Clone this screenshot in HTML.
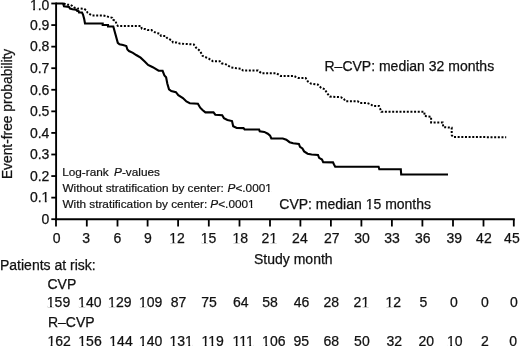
<!DOCTYPE html>
<html><head><meta charset="utf-8"><style>
html,body{margin:0;padding:0;background:#fff;}
body{width:520px;height:346px;overflow:hidden;}
svg{display:block;will-change:transform;}
.t{font-family:"Liberation Sans",sans-serif;font-size:14px;fill:#111;stroke:#111;stroke-width:0.25px;}
.s{font-family:"Liberation Sans",sans-serif;font-size:11.8px;fill:#111;stroke:#111;stroke-width:0.2px;}
</style></head><body>
<svg width="520" height="346" viewBox="0 0 520 346">
<rect width="520" height="346" fill="#fff"/>
<line x1="56.1" y1="2.6" x2="56.1" y2="220.2" stroke="#000" stroke-width="1.9"/>
<line x1="55.1" y1="219.2" x2="514.8" y2="219.2" stroke="#000" stroke-width="2"/>
<line x1="51.3" y1="219.20" x2="56.1" y2="219.20" stroke="#000" stroke-width="1.8"/>
<text x="49.4" y="224.0" text-anchor="end" class="t">0</text>
<line x1="51.3" y1="197.63" x2="56.1" y2="197.63" stroke="#000" stroke-width="1.8"/>
<text x="49.4" y="202.4" text-anchor="end" class="t">0.1</text>
<line x1="51.3" y1="176.06" x2="56.1" y2="176.06" stroke="#000" stroke-width="1.8"/>
<text x="49.4" y="180.9" text-anchor="end" class="t">0.2</text>
<line x1="51.3" y1="154.49" x2="56.1" y2="154.49" stroke="#000" stroke-width="1.8"/>
<text x="49.4" y="159.3" text-anchor="end" class="t">0.3</text>
<line x1="51.3" y1="132.92" x2="56.1" y2="132.92" stroke="#000" stroke-width="1.8"/>
<text x="49.4" y="137.7" text-anchor="end" class="t">0.4</text>
<line x1="51.3" y1="111.35" x2="56.1" y2="111.35" stroke="#000" stroke-width="1.8"/>
<text x="49.4" y="116.1" text-anchor="end" class="t">0.5</text>
<line x1="51.3" y1="89.78" x2="56.1" y2="89.78" stroke="#000" stroke-width="1.8"/>
<text x="49.4" y="94.6" text-anchor="end" class="t">0.6</text>
<line x1="51.3" y1="68.21" x2="56.1" y2="68.21" stroke="#000" stroke-width="1.8"/>
<text x="49.4" y="73.0" text-anchor="end" class="t">0.7</text>
<line x1="51.3" y1="46.64" x2="56.1" y2="46.64" stroke="#000" stroke-width="1.8"/>
<text x="49.4" y="51.4" text-anchor="end" class="t">0.8</text>
<line x1="51.3" y1="25.07" x2="56.1" y2="25.07" stroke="#000" stroke-width="1.8"/>
<text x="49.4" y="29.9" text-anchor="end" class="t">0.9</text>
<line x1="51.3" y1="3.50" x2="56.1" y2="3.50" stroke="#000" stroke-width="1.8"/>
<text x="49.4" y="10.3" text-anchor="end" class="t">1.0</text>
<line x1="56.00" y1="219.2" x2="56.00" y2="226.5" stroke="#000" stroke-width="1.8"/>
<text x="56.60" y="242.5" text-anchor="middle" class="t">0</text>
<line x1="86.80" y1="219.2" x2="86.80" y2="226.5" stroke="#000" stroke-width="1.8"/>
<text x="86.10" y="242.5" text-anchor="middle" class="t">3</text>
<line x1="117.50" y1="219.2" x2="117.50" y2="226.5" stroke="#000" stroke-width="1.8"/>
<text x="117.30" y="242.5" text-anchor="middle" class="t">6</text>
<line x1="147.60" y1="219.2" x2="147.60" y2="226.5" stroke="#000" stroke-width="1.8"/>
<text x="148.00" y="242.5" text-anchor="middle" class="t">9</text>
<line x1="178.10" y1="219.2" x2="178.10" y2="226.5" stroke="#000" stroke-width="1.8"/>
<text x="177.10" y="242.5" text-anchor="middle" class="t">12</text>
<line x1="208.80" y1="219.2" x2="208.80" y2="226.5" stroke="#000" stroke-width="1.8"/>
<text x="208.60" y="242.5" text-anchor="middle" class="t">15</text>
<line x1="239.50" y1="219.2" x2="239.50" y2="226.5" stroke="#000" stroke-width="1.8"/>
<text x="240.20" y="242.5" text-anchor="middle" class="t">18</text>
<line x1="270.00" y1="219.2" x2="270.00" y2="226.5" stroke="#000" stroke-width="1.8"/>
<text x="269.40" y="242.5" text-anchor="middle" class="t">21</text>
<line x1="300.40" y1="219.2" x2="300.40" y2="226.5" stroke="#000" stroke-width="1.8"/>
<text x="299.90" y="242.5" text-anchor="middle" class="t">24</text>
<line x1="330.90" y1="219.2" x2="330.90" y2="226.5" stroke="#000" stroke-width="1.8"/>
<text x="331.70" y="242.5" text-anchor="middle" class="t">27</text>
<line x1="361.40" y1="219.2" x2="361.40" y2="226.5" stroke="#000" stroke-width="1.8"/>
<text x="362.00" y="242.5" text-anchor="middle" class="t">30</text>
<line x1="391.90" y1="219.2" x2="391.90" y2="226.5" stroke="#000" stroke-width="1.8"/>
<text x="392.00" y="242.5" text-anchor="middle" class="t">33</text>
<line x1="422.40" y1="219.2" x2="422.40" y2="226.5" stroke="#000" stroke-width="1.8"/>
<text x="422.80" y="242.5" text-anchor="middle" class="t">36</text>
<line x1="453.00" y1="219.2" x2="453.00" y2="226.5" stroke="#000" stroke-width="1.8"/>
<text x="454.20" y="242.5" text-anchor="middle" class="t">39</text>
<line x1="483.50" y1="219.2" x2="483.50" y2="226.5" stroke="#000" stroke-width="1.8"/>
<text x="483.90" y="242.5" text-anchor="middle" class="t">42</text>
<line x1="513.80" y1="219.2" x2="513.80" y2="226.5" stroke="#000" stroke-width="1.8"/>
<text x="511.90" y="242.5" text-anchor="middle" class="t">45</text>
<polyline points="56.0,3.5 63.0,3.5 64.0,6.3 69.0,6.9 70.0,8.5 72.5,9.3 76.0,9.6 77.0,10.8 78.6,11.2 79.0,12.4 82.0,12.5 83.0,14.5 84.2,19.0 85.0,23.5 102.7,23.5 102.7,25.0 108.0,25.0 108.0,26.5 113.3,26.5 117.8,42.8 119.5,44.2 123.0,45.0 126.3,46.0 127.4,49.5 129.0,51.0 132.9,52.8 136.2,55.0 140.6,57.7 144.7,61.5 148.1,64.9 152.8,67.2 158.6,70.7 162.6,70.8 164.4,75.4 166.1,77.2 167.3,83.5 169.0,89.3 171.3,91.0 175.9,92.2 178.3,95.1 182.9,98.0 186.4,101.5 189.8,103.2 197.9,103.7 200.2,107.7 202.5,110.0 205.4,112.4 213.5,112.4 215.3,114.7 222.2,115.3 223.9,118.1 227.4,119.9 232.0,121.0 233.2,126.2 236.7,128.0 243.5,128.1 244.6,129.5 259.1,129.5 259.7,131.2 264.3,131.9 267.8,133.7 270.1,135.6 271.3,138.5 282.8,138.5 286.3,139.7 289.6,142.2 293.1,143.3 298.9,143.9 300.0,146.8 302.4,148.5 304.1,151.4 307.6,153.7 311.6,154.5 318.0,154.9 319.1,157.8 322.0,159.5 323.2,162.2 333.0,162.4 334.0,164.5 335.2,166.8 378.6,166.8 379.3,169.2 400.8,169.2 401.2,174.5 448.0,174.5" fill="none" stroke="#000" stroke-width="2.1" stroke-linejoin="miter"/>
<polyline points="63.8,3.5 66.3,4.8 70.1,4.9 72.1,5.8 74.0,7.5 77.3,8.7 80.6,8.5 84.2,8.9 86.5,10.4 87.5,12.7 89.3,13.9 91.9,15.4 102.7,15.4 105.8,16.0 108.4,16.9 112.3,17.8 113.0,19.5 115.7,21.2 116.6,24.7 118.0,26.0 141.0,26.0 141.8,28.7 145.2,29.1 147.6,30.1 151.5,30.1 153.4,31.5 156.3,33.0 159.6,33.5 161.1,35.9 165.4,35.9 166.8,37.8 169.2,39.2 171.6,40.2 173.1,42.6 176.9,42.6 179.8,43.6 193.8,44.5 196.1,47.7 200.2,51.1 202.5,55.8 208.8,58.6 212.9,61.3 219.8,61.3 221.5,63.3 226.1,64.4 230.7,67.3 237.7,68.5 240.8,68.7 243.1,70.6 258.1,70.6 261.5,73.3 276.5,73.3 280.6,75.9 293.8,75.9 295.8,76.9 298.1,77.9 305.6,77.9 307.9,81.6 310.8,83.6 317.7,84.5 321.2,87.9 324.7,89.1 327.0,93.1 329.9,96.6 340.9,97.2 343.8,98.9 345.5,101.2 357.7,101.3 360.0,103.1 367.5,103.1 370.4,104.2 373.3,106.0 379.0,106.0 380.2,108.8 381.3,111.7 424.2,111.7 424.8,116.1 431.1,116.7 431.1,122.5 442.7,122.5 443.3,127.1 451.7,127.7 451.7,135.0 453.0,137.0 506.2,137.2" fill="none" stroke="#000" stroke-width="2" stroke-dasharray="2 1.65"/>
<text x="254" y="263.5" class="t">Study month</text>
<text x="11.7" y="179.1" class="t" style="font-size:13.8px" transform="rotate(-90 11.7 179.1)">Event-free probability</text>
<text x="324.5" y="70.8" class="t">R–CVP: median 32 months</text>
<text x="279.3" y="209.2" class="t">CVP: median 15 months</text>
<text x="62.2" y="175.7" class="s">Log-rank <tspan font-style="italic" dx="2">P</tspan>-values</text>
<text x="62.4" y="192" class="s">Without stratification by center: <tspan font-style="italic" dx="0.6">P</tspan>&lt;.0001</text>
<text x="62.4" y="208.2" class="s">With stratification by center: <tspan font-style="italic" dx="-0.2">P</tspan>&lt;.0001</text>
<text x="0" y="270.4" class="t">Patients at risk:</text>
<text x="47.5" y="288.8" class="t">CVP</text>
<text x="47.9" y="327.3" class="t">R–CVP</text>
<text x="58.5" y="306.5" text-anchor="middle" class="t n">159</text>
<text x="59.1" y="345.5" text-anchor="middle" class="t n">162</text>
<text x="89.8" y="306.5" text-anchor="middle" class="t n">140</text>
<text x="90.0" y="345.5" text-anchor="middle" class="t n">156</text>
<text x="119.8" y="306.5" text-anchor="middle" class="t n">129</text>
<text x="121.0" y="345.5" text-anchor="middle" class="t n">144</text>
<text x="150.6" y="306.5" text-anchor="middle" class="t n">109</text>
<text x="150.6" y="345.5" text-anchor="middle" class="t n">140</text>
<text x="178.6" y="306.5" text-anchor="middle" class="t n">87</text>
<text x="181.2" y="345.5" text-anchor="middle" class="t n">131</text>
<text x="209.0" y="306.5" text-anchor="middle" class="t n">75</text>
<text x="212.7" y="345.5" text-anchor="middle" class="t n">119</text>
<text x="240.8" y="306.5" text-anchor="middle" class="t n">64</text>
<text x="243.2" y="345.5" text-anchor="middle" class="t n">111</text>
<text x="270.1" y="306.5" text-anchor="middle" class="t n">58</text>
<text x="273.8" y="345.5" text-anchor="middle" class="t n">106</text>
<text x="301.5" y="306.5" text-anchor="middle" class="t n">46</text>
<text x="301.3" y="345.5" text-anchor="middle" class="t n">95</text>
<text x="331.2" y="306.5" text-anchor="middle" class="t n">28</text>
<text x="331.2" y="345.5" text-anchor="middle" class="t n">68</text>
<text x="361.4" y="306.5" text-anchor="middle" class="t n">21</text>
<text x="361.9" y="345.5" text-anchor="middle" class="t n">50</text>
<text x="393.3" y="306.5" text-anchor="middle" class="t n">12</text>
<text x="394.3" y="345.5" text-anchor="middle" class="t n">32</text>
<text x="423.5" y="306.5" text-anchor="middle" class="t n">5</text>
<text x="426.3" y="345.5" text-anchor="middle" class="t n">20</text>
<text x="453.8" y="306.5" text-anchor="middle" class="t n">0</text>
<text x="454.8" y="345.5" text-anchor="middle" class="t n">10</text>
<text x="484.8" y="306.5" text-anchor="middle" class="t n">0</text>
<text x="485.0" y="345.5" text-anchor="middle" class="t n">2</text>
<text x="513.9" y="306.5" text-anchor="middle" class="t n">0</text>
<text x="513.2" y="345.5" text-anchor="middle" class="t n">0</text>
<g><rect x="42.07" y="200.25" width="2.75" height="2.95" fill="#fff"/><rect x="46.66" y="200.25" width="2.64" height="2.95" fill="#fff"/><rect x="30.40" y="8.15" width="2.75" height="2.95" fill="#fff"/><rect x="34.99" y="8.15" width="2.64" height="2.95" fill="#fff"/><rect x="169.78" y="240.35" width="2.75" height="2.95" fill="#fff"/><rect x="174.37" y="240.35" width="2.64" height="2.95" fill="#fff"/><rect x="201.28" y="240.35" width="2.75" height="2.95" fill="#fff"/><rect x="205.87" y="240.35" width="2.64" height="2.95" fill="#fff"/><rect x="232.88" y="240.35" width="2.75" height="2.95" fill="#fff"/><rect x="237.47" y="240.35" width="2.64" height="2.95" fill="#fff"/><rect x="269.86" y="240.35" width="2.75" height="2.95" fill="#fff"/><rect x="274.45" y="240.35" width="2.64" height="2.95" fill="#fff"/><rect x="366.13" y="207.05" width="2.75" height="2.95" fill="#fff"/><rect x="370.72" y="207.05" width="2.64" height="2.95" fill="#fff"/><rect x="265.60" y="190.02" width="2.37" height="2.78" fill="#fff"/><rect x="269.61" y="190.02" width="2.28" height="2.78" fill="#fff"/><rect x="248.39" y="206.22" width="2.37" height="2.78" fill="#fff"/><rect x="252.40" y="206.22" width="2.28" height="2.78" fill="#fff"/><rect x="47.29" y="304.35" width="2.75" height="2.95" fill="#fff"/><rect x="51.88" y="304.35" width="2.64" height="2.95" fill="#fff"/><rect x="47.89" y="343.35" width="2.75" height="2.95" fill="#fff"/><rect x="52.48" y="343.35" width="2.64" height="2.95" fill="#fff"/><rect x="78.59" y="304.35" width="2.75" height="2.95" fill="#fff"/><rect x="83.18" y="304.35" width="2.64" height="2.95" fill="#fff"/><rect x="78.79" y="343.35" width="2.75" height="2.95" fill="#fff"/><rect x="83.38" y="343.35" width="2.64" height="2.95" fill="#fff"/><rect x="108.59" y="304.35" width="2.75" height="2.95" fill="#fff"/><rect x="113.18" y="304.35" width="2.64" height="2.95" fill="#fff"/><rect x="109.79" y="343.35" width="2.75" height="2.95" fill="#fff"/><rect x="114.38" y="343.35" width="2.64" height="2.95" fill="#fff"/><rect x="139.39" y="304.35" width="2.75" height="2.95" fill="#fff"/><rect x="143.98" y="304.35" width="2.64" height="2.95" fill="#fff"/><rect x="139.39" y="343.35" width="2.75" height="2.95" fill="#fff"/><rect x="143.98" y="343.35" width="2.64" height="2.95" fill="#fff"/><rect x="169.99" y="343.35" width="2.75" height="2.95" fill="#fff"/><rect x="174.58" y="343.35" width="2.64" height="2.95" fill="#fff"/><rect x="185.55" y="343.35" width="2.75" height="2.95" fill="#fff"/><rect x="190.14" y="343.35" width="2.64" height="2.95" fill="#fff"/><rect x="202.00" y="343.35" width="2.75" height="2.95" fill="#fff"/><rect x="206.59" y="343.35" width="2.64" height="2.95" fill="#fff"/><rect x="208.74" y="343.35" width="2.75" height="2.95" fill="#fff"/><rect x="213.33" y="343.35" width="2.64" height="2.95" fill="#fff"/><rect x="233.03" y="343.35" width="2.75" height="2.95" fill="#fff"/><rect x="237.62" y="343.35" width="2.64" height="2.95" fill="#fff"/><rect x="239.76" y="343.35" width="2.75" height="2.95" fill="#fff"/><rect x="244.35" y="343.35" width="2.64" height="2.95" fill="#fff"/><rect x="246.51" y="343.35" width="2.75" height="2.95" fill="#fff"/><rect x="251.10" y="343.35" width="2.64" height="2.95" fill="#fff"/><rect x="262.59" y="343.35" width="2.75" height="2.95" fill="#fff"/><rect x="267.18" y="343.35" width="2.64" height="2.95" fill="#fff"/><rect x="361.86" y="304.35" width="2.75" height="2.95" fill="#fff"/><rect x="366.45" y="304.35" width="2.64" height="2.95" fill="#fff"/><rect x="385.98" y="304.35" width="2.75" height="2.95" fill="#fff"/><rect x="390.57" y="304.35" width="2.64" height="2.95" fill="#fff"/><rect x="447.48" y="343.35" width="2.75" height="2.95" fill="#fff"/><rect x="452.07" y="343.35" width="2.64" height="2.95" fill="#fff"/></g>
</svg>
</body></html>
